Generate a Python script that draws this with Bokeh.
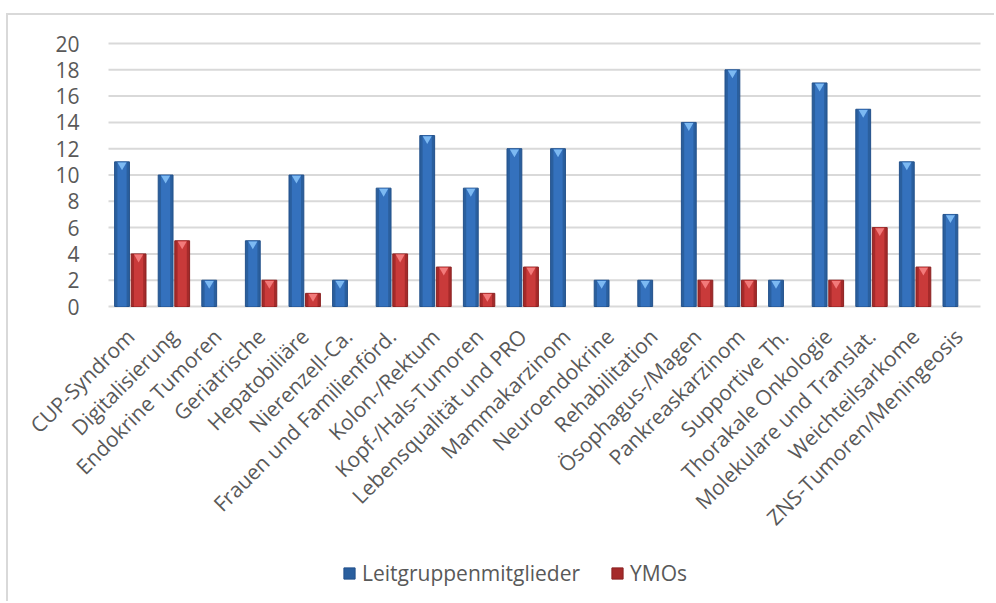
from bokeh.plotting import figure
from bokeh.models import (Range1d, Legend, LegendItem, ColumnDataSource, FixedTicker)
from bokeh.embed import file_html
from bokeh.resources import INLINE
import math

categories = ["CUP-Syndrom", "Digitalisierung", "Endokrine Tumoren", "Geriatrische",
              "Hepatobiliäre", "Nierenzell-Ca.", "Frauen und Familienförd.", "Kolon-/Rektum",
              "Kopf-/Hals-Tumoren", "Lebensqualität und PRO", "Mammakarzinom", "Neuroendokrine",
              "Rehabilitation", "Ösophagus-/Magen", "Pankreaskarzinom", "Supportive Th.",
              "Thorakale Onkologie", "Molekulare und Translat.", "Weichteilsarkome",
              "ZNS-Tumoren/Meningeosis"]
leitgruppe = [11, 10, 2, 5, 10, 2, 9, 13, 9, 12, 12, 2, 2, 14, 18, 2, 17, 15, 11, 7]
ymos = [4, 5, 0, 2, 1, 0, 4, 3, 1, 3, 0, 0, 0, 2, 2, 0, 2, 6, 3, 0]
series_names = ["Leitgruppenmitglieder", "YMOs"]
y_ticks = list(range(0, 21, 2))

FONT = "Open Sans"
TXT = "#595959"
GRID = "#D9D9D9"
NAN = float("nan")

n = len(categories)
centers = [i + 0.5 for i in range(n)]
W = 0.34
off = 0.19

src = ColumnDataSource(dict(
    xa=[c - off for c in centers],
    xb=[c + off for c in centers],
    a=[v if v > 0 else NAN for v in leitgruppe],
    b=[v if v > 0 else NAN for v in ymos],
    a_tip=[v - 0.25 if v > 0 else NAN for v in leitgruppe],
    b_tip=[v - 0.25 if v > 0 else NAN for v in ymos],
))

# layout (window pixels)
OX, OY = 8, 15                       # figure offset inside window (room for chart border)
PLOT_LEFT, PLOT_RIGHT = 108, 980
PLOT_TOP, PLOT_ZERO = 43, 306
FIG_W, FIG_H = 996 - OX, 603 - OY
px_x = (PLOT_RIGHT - PLOT_LEFT) / n
px_y = (PLOT_ZERO - PLOT_TOP) / max(y_ticks)
x_start = -(PLOT_LEFT - OX) / px_x
x_end = n + (996 - PLOT_RIGHT) / px_x
y_end = max(y_ticks) + (PLOT_TOP - OY) / px_y
y_start = -(603 - PLOT_ZERO) / px_y

p = figure(width=FIG_W, height=FIG_H, x_range=Range1d(x_start, x_end),
           y_range=Range1d(y_start, y_end), output_backend="svg", toolbar_location=None,
           min_border=0)
p.styles = {"margin-left": f"{OX - 2}px", "margin-top": f"{OY - 2}px",
            "border-left": "2px solid " + GRID, "border-top": "2px solid " + GRID}
p.outline_line_color = None
p.background_fill_color = "white"
p.border_fill_color = "white"
p.xgrid.grid_line_color = None
p.ygrid.grid_line_color = None

# gridlines (only across the plot area)
p.segment(x0=[0] * len(y_ticks), x1=[n] * len(y_ticks), y0=y_ticks, y1=y_ticks,
          line_color=GRID, line_width=2)

rb = p.vbar(x="xa", top="a", width=W, source=src,
            fill_color="#2A5F9E", line_color="#23518A", line_width=1)
p.vbar(x="xa", top="a", width=W * 0.62, source=src, fill_color="#3471BD", line_color=None)
p.scatter(x="xa", y="a_tip", source=src, marker="inverted_triangle",
          size=9, fill_color="#7CB9F2", line_color=None)
rr = p.vbar(x="xb", top="b", width=W, source=src,
            fill_color="#A52A2A", line_color="#8A2222", line_width=1)
p.vbar(x="xb", top="b", width=W * 0.62, source=src, fill_color="#C93A3A", line_color=None)
p.scatter(x="xb", y="b_tip", source=src, marker="inverted_triangle",
          size=9, fill_color="#F27A7A", line_color=None)

p.yaxis.fixed_location = 0
p.yaxis.ticker = FixedTicker(ticks=y_ticks, minor_ticks=[])
p.yaxis.axis_line_color = None
p.yaxis.major_tick_line_color = None
p.yaxis.minor_tick_line_color = None
p.yaxis.major_label_standoff = 23
p.yaxis.major_label_text_font = FONT
p.yaxis.major_label_text_font_size = "21px"
p.yaxis.major_label_text_color = TXT

p.xaxis.fixed_location = 0
p.xaxis.ticker = FixedTicker(ticks=centers, minor_ticks=[])
p.xaxis.major_label_overrides = {c: lab for c, lab in zip(centers, categories)}
p.xaxis.axis_line_color = None
p.xaxis.major_tick_line_color = None
p.xaxis.minor_tick_line_color = None
p.xaxis.major_label_orientation = math.pi / 4
p.xaxis.major_label_standoff = 20
p.xaxis.major_label_text_font = FONT
p.xaxis.major_label_text_font_size = "21px"
p.xaxis.major_label_text_color = TXT

legend = Legend(items=[LegendItem(label=series_names[0], renderers=[rb]),
                       LegendItem(label=series_names[1], renderers=[rr])],
                location=(334, 16), orientation="horizontal",
                margin=0, padding=0, glyph_width=14, glyph_height=14,
                label_standoff=6, spacing=30, border_line_color=None,
                background_fill_alpha=0,
                label_text_font=FONT, label_text_font_size="21px", label_text_color=TXT)
p.add_layout(legend, "center")

open("out.html", "w").write(file_html(p, INLINE))
